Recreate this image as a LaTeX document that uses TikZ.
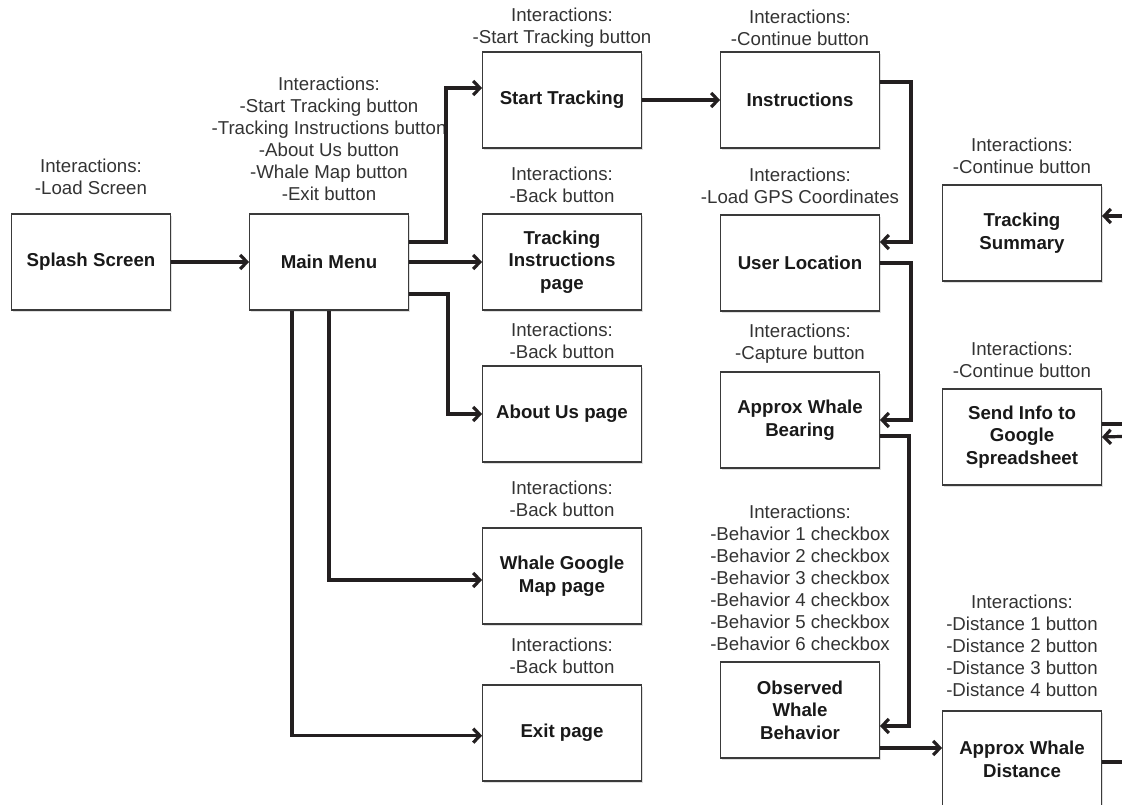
\documentclass[tikz,border=0pt]{standalone}
\usepackage{fontspec}
\setmainfont{Liberation Sans}
\usetikzlibrary{positioning,arrows.meta,shadows}

\definecolor{inkline}{HTML}{231F20}
\definecolor{boxedge}{HTML}{3A3A3A}
\definecolor{lbltext}{HTML}{333333}

\tikzset{
  screen/.style={draw=boxedge, line width=0.9pt, fill=white,
    minimum width=119pt, minimum height=72pt, inner sep=2pt, align=center,
    font=\fontsize{14}{17}\selectfont\bfseries, text=black!90,
    drop shadow={shadow xshift=1.2pt, shadow yshift=-1.2pt, opacity=.25}},
  interact/.style={align=center, inner sep=0pt,
    font=\fontsize{14}{16.5}\selectfont, text=lbltext},
  flow/.style={draw=inkline, line width=2.4pt,
    -{Straight Barb[length=5pt,width=10.5pt]}},
}

\begin{document}
\begin{tikzpicture}[x=0.75pt,y=-0.75pt]
  \useasboundingbox (0,0) rectangle (1122,805);

  % screens
  \node[screen] (splash)   at (91,262)   {Splash Screen};
  \node[screen] (menu)     at (329,262)  {Main Menu};
  \node[screen] (start)    at (562,100)  {Start Tracking};
  \node[screen] (instr)    at (800,100)  {Instructions};
  \node[screen] (tinstr)   at (562,262)  {Tracking\\Instructions\\page};
  \node[screen] (about)    at (562,414)  {\raisebox{-6pt}{About Us page}};
  \node[screen] (gmap)     at (562,576)  {Whale Google\\Map page};
  \node[screen] (exitpg)   at (562,733)  {\raisebox{-3pt}{Exit page}};
  \node[screen] (userloc)  at (800,263)  {User Location};
  \node[screen] (bearing)  at (800,420)  {Approx Whale\\Bearing};
  \node[screen] (observed) at (800,710)  {Observed\\Whale\\Behavior};
  \node[screen] (distance) at (1022,759) {Approx Whale\\Distance};
  \node[screen] (summary)  at (1022,233) {Tracking\\Summary};
  \node[screen] (sendinfo) at (1022,437) {Send Info to\\Google\\Spreadsheet};

  % interactions
  \node[interact, above=13.5pt of splash] (splashI) {Interactions:\\-Load Screen};
  \node[interact, above=9pt of menu] (menuI) {Interactions:\\-Start Tracking button\\-Tracking Instructions button\\-About Us button\\-Whale Map button\\-Exit button};
  \node[interact, above=3pt of start] (startI) {Interactions:\\-Start Tracking button};
  \node[interact, above=3.75pt of instr] (instrI) {Interactions:\\-Continue button};
  \node[interact, above=8pt of tinstr] (tinstrI) {Interactions:\\-Back button};
  \node[interact, above=8pt of userloc] (userlocI) {Interactions:\\-Load GPS Coordinates};
  \node[interact, above=4.5pt of about] (aboutI) {Interactions:\\-Back button};
  \node[interact, above=6pt of bearing] (bearingI) {Interactions:\\-Capture button};
  \node[interact, above=8pt of summary] (summaryI) {Interactions:\\-Continue button};
  \node[interact, above=8pt of sendinfo] (sendinfoI) {Interactions:\\-Continue button};
  \node[interact, above=7.5pt of gmap] (gmapI) {Interactions:\\-Back button};
  \node[interact, above=8pt of exitpg] (exitpgI) {Interactions:\\-Back button};
  \node[interact, above=7.5pt of observed] (observedI) {Interactions:\\-Behavior 1 checkbox\\-Behavior 2 checkbox\\-Behavior 3 checkbox\\-Behavior 4 checkbox\\-Behavior 5 checkbox\\-Behavior 6 checkbox};
  \node[interact, above=10pt of distance] (distanceI) {Interactions:\\-Distance 1 button\\-Distance 2 button\\-Distance 3 button\\-Distance 4 button};

  % ends running off the page
  \coordinate (sumIn)   at (1140,216);
  \coordinate (sendIn)  at (1140,436);
  \coordinate (sendOut) at (1140,424);
  \coordinate (distOut) at (1140,762);

  % menu flow
  \draw[flow] (splash) -- (menu);
  \draw[flow] ([yshift=15pt]menu.east) -| ([xshift=-27pt,yshift=9pt]start.west) -- ([yshift=9pt]start.west);
  \draw[flow] (menu.east) -- (tinstr.west);
  \draw[flow] ([yshift=-24pt]menu.east) -| ([xshift=-25.5pt]about.west) -- (about.west);
  \draw[flow] (menu.south) |- ([yshift=-3pt]gmap.west);
  \draw[flow] ([xshift=-27.75pt]menu.south) |- ([yshift=-2pt]exitpg.west);

  % tracking flow
  \draw[flow] (start) -- (instr);
  \draw[flow] ([yshift=13.5pt]instr.east) -| ([xshift=23.25pt,yshift=15.75pt]userloc.east) -- ([yshift=15.75pt]userloc.east);
  \draw[flow] (userloc.east) -| ([xshift=23.25pt]bearing.east) -- (bearing.east);
  \draw[flow] ([yshift=-12pt]bearing.east) -| ([xshift=21.75pt,yshift=-12pt]observed.east) -- ([yshift=-12pt]observed.east);
  \draw[flow] ([yshift=-28.5pt]observed.east) -- ([yshift=8.25pt]distance.west);
  \draw[flow, -] ([yshift=-2.25pt]distance.east) -- (distOut);
  \draw[flow, -] ([yshift=9.75pt]sendinfo.east) -- (sendOut);
  \draw[flow] (sendIn) -- (sendinfo.east);
  \draw[flow] (sumIn) -- ([yshift=12.75pt]summary.east);

\end{tikzpicture}
\end{document}
